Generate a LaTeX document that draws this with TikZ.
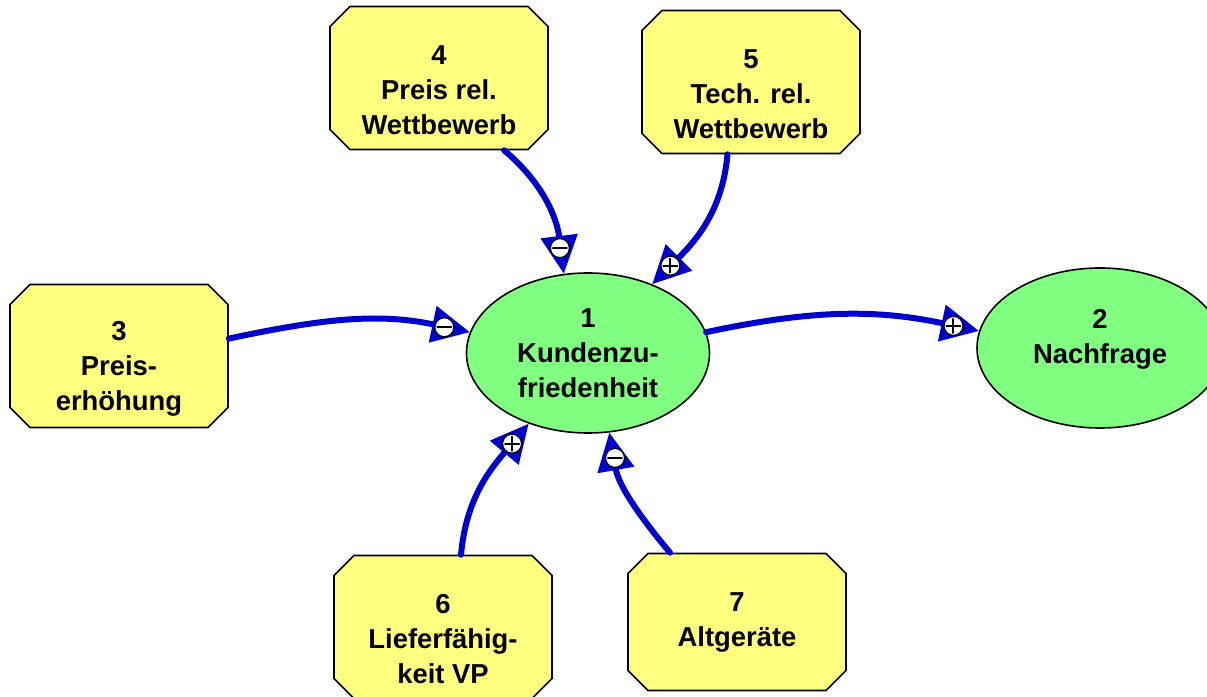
\documentclass[tikz,border=0pt]{standalone}
\usepackage{fontspec}
\setmainfont{Liberation Sans}
\usepackage{xcolor}
\usetikzlibrary{shapes.misc,shapes.geometric,arrows.meta,decorations.markings}

\definecolor{factoryellow}{RGB}{255,255,128}
\definecolor{stategreen}{RGB}{128,255,128}
\definecolor{linkblue}{RGB}{0,0,204}

\tikzset{
  label font/.style={font=\bfseries\fontsize{13.7}{17.5}\selectfont},
  factor/.style={chamfered rectangle, chamfered rectangle xsep=5pt,
    chamfered rectangle ysep=5pt, draw, line width=0.8pt, fill=factoryellow,
    minimum width=109pt, minimum height=71.5pt, inner sep=0pt,
    align=center, label font, text height=57pt},
  state/.style={ellipse, draw, line width=0.8pt, fill=stategreen,
    minimum width=121.5pt, minimum height=80pt, inner sep=0pt,
    align=center, label font},
  sign/.style={circle, draw=black, line width=0.6pt, fill=white,
    minimum size=9.5pt, inner sep=0pt},
  minussign/.style={sign, path picture={
    \draw[-, black, line width=1pt] ([xshift=-3.5pt]path picture bounding box.center)
      -- ([xshift=3.5pt]path picture bounding box.center);}},
  plussign/.style={sign, path picture={
    \draw[-, black, line width=1pt] ([xshift=-3.5pt]path picture bounding box.center)
      -- ([xshift=3.5pt]path picture bounding box.center);
    \draw[-, black, line width=1pt] ([yshift=-3.5pt]path picture bounding box.center)
      -- ([yshift=3.5pt]path picture bounding box.center);}},
  link/.style={draw=linkblue, line width=3pt, line cap=round,
    -{Triangle[length=19pt, width=18pt]}},
  pluslink/.style={link, postaction={decorate}, decoration={markings,
    mark=at position -13pt with {\node[plussign] (#1) {};}}},
  minuslink/.style={link, postaction={decorate}, decoration={markings,
    mark=at position -13pt with {\node[minussign] (#1) {};}}}
}

\begin{document}
\begin{tikzpicture}[x=0.5pt, y=0.5pt]
  \useasboundingbox (0,0) rectangle (1207,697);

  % factors
  \node[factor] (b3) at (119,341) {3\\Preis-\\erhöhung};
  \node[factor] (b4) at (439,619) {4\\Preis rel.\\Wettbewerb};
  \node[factor] (b5) at (751,615) {5\\Tech. rel.\\Wettbewerb};
  \node[factor] (b6) at (443,70) {6\\Lieferfähig-\\keit VP};
  \node[factor, minimum height=68.5pt, text height=] (b7) at (737,75) {7\\Altgeräte};

  % states
  \node[state] (k1) at (588,344) {1\\Kundenzu-\\friedenheit};
  \node[state, minimum width=123pt, text depth=12pt] (k2) at (1100,349) {2\\Nachfrage};

  % links
  \draw[minuslink=s4] (b4.-48) to[out=-40, in=97] (k1.107);
  \draw[pluslink=s5] (b5.-108) to[out=-95, in=45] (k1.47);
  \draw[minuslink=s3] (b3.9) to[out=12, in=168] (k1.170);
  \draw[pluslink=s2] (k1.10) to[out=12, in=168] (k2.172);
  \draw[pluslink=s6] (b6.76) to[out=85, in=-130] (k1.230);
  \draw[minuslink=s7] (b7.134) to[out=130, in=-80] (k1.-75);
\end{tikzpicture}
\end{document}
